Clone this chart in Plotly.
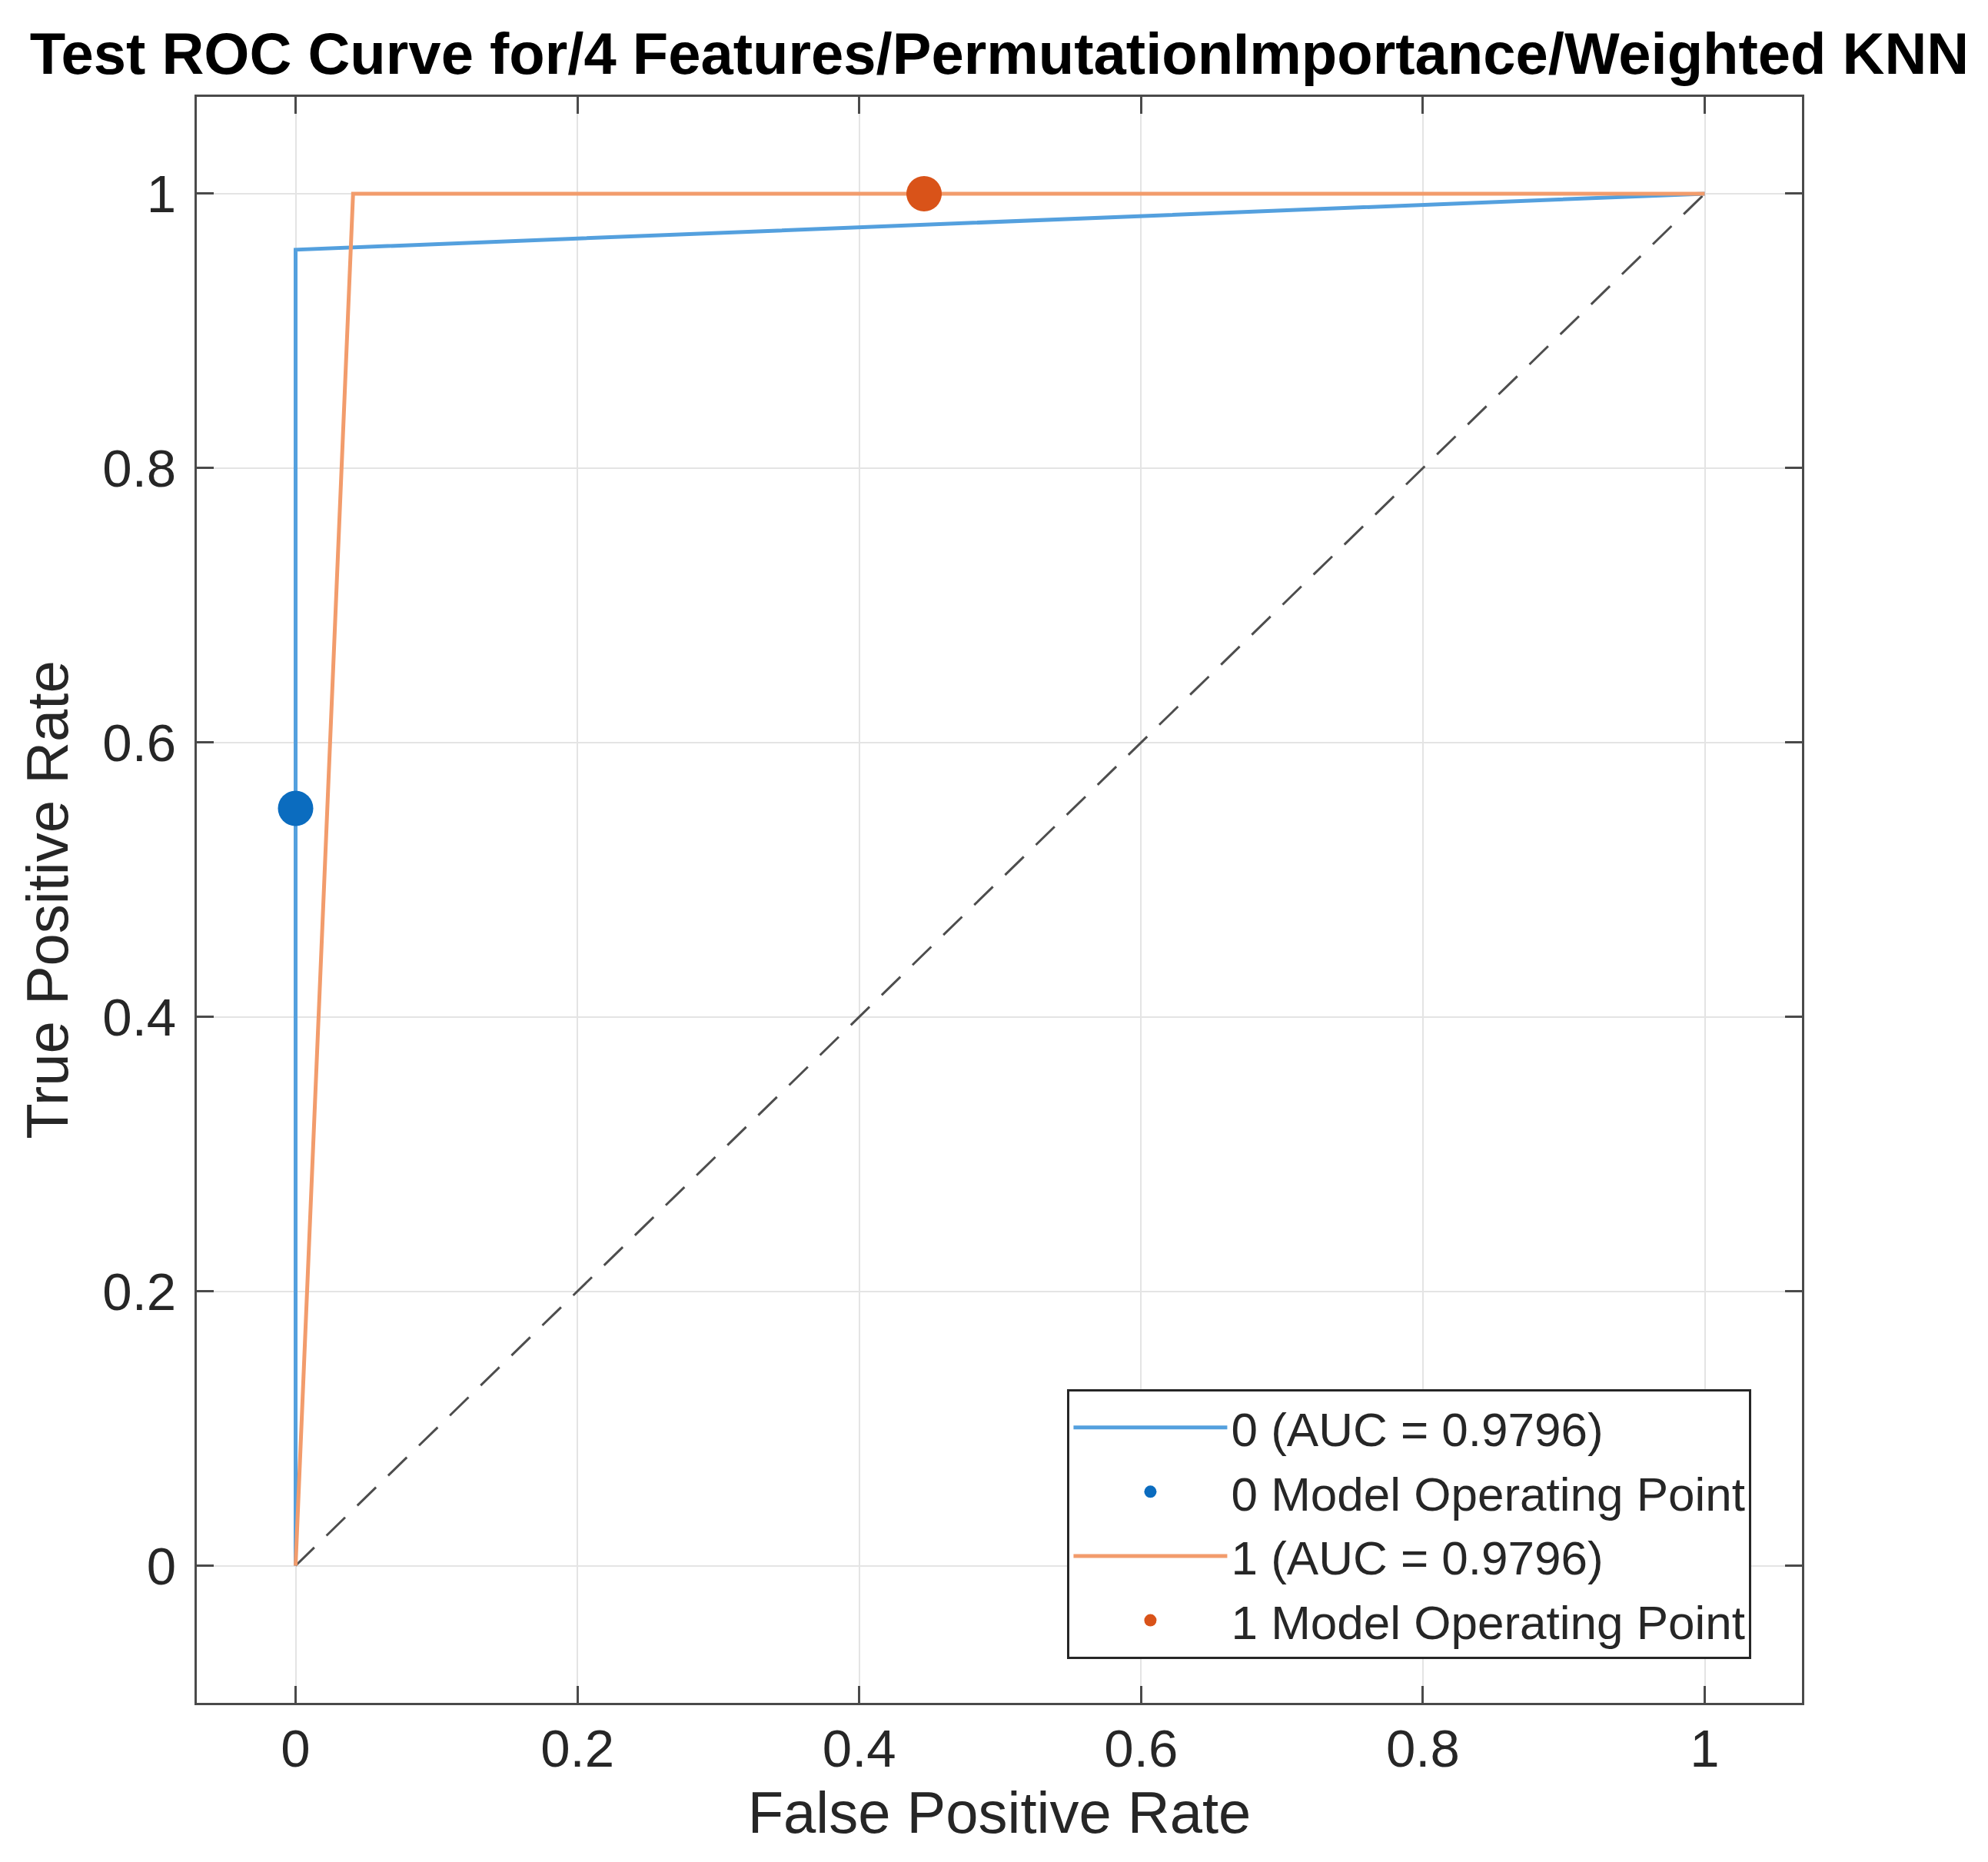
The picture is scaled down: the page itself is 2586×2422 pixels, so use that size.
import plotly.graph_objects as go

# ROC points
fpr_0 = [0, 0, 1]
tpr_0 = [0, 0.9592, 1]
fpr_1 = [0, 0.0408, 1]
tpr_1 = [0, 1, 1]

# model operating points
op_0_x = [0]
op_0_y = [0.552]
op_1_x = [0.446]
op_1_y = [1]

chance_x = [0, 1]
chance_y = [0, 1]

names = ["0 (AUC = 0.9796)", "0 Model Operating Point",
         "1 (AUC = 0.9796)", "1 Model Operating Point"]
ticks = [0, 0.2, 0.4, 0.6, 0.8, 1]
tick_text = ["0", "0.2", "0.4", "0.6", "0.8", "1"]

FONT = "Liberation Sans, Arial, Helvetica, sans-serif"
AX = "#4a4a4a"
TXT = "#262626"

fig = go.Figure()

fig.add_trace(go.Scatter(x=chance_x, y=chance_y, mode='lines', showlegend=False,
                         line=dict(color='#4d4d4d', width=3, dash='34px,22px')))
fig.add_trace(go.Scatter(x=fpr_0, y=tpr_0, mode='lines', name=names[0],
                         line=dict(color='#54a0de', width=5)))
fig.add_trace(go.Scatter(x=op_0_x, y=op_0_y, mode='markers', name=names[1],
                         marker=dict(color='#0b6cbf', size=46)))
fig.add_trace(go.Scatter(x=fpr_1, y=tpr_1, mode='lines', name=names[2],
                         line=dict(color='#f29c6c', width=5)))
fig.add_trace(go.Scatter(x=op_1_x, y=op_1_y, mode='markers', name=names[3],
                         marker=dict(color='#d95319', size=46)))

axis_common = dict(
    showline=True, linecolor=AX, linewidth=3, mirror='ticks',
    ticks='inside', ticklen=22, tickwidth=3, tickcolor=AX,
    showgrid=True, gridcolor='#e4e4e4', gridwidth=2,
    zeroline=False, tickvals=ticks, ticktext=tick_text,
    tickfont=dict(family=FONT, size=69, color=TXT),
    automargin=False,
)

fig.update_layout(
    width=2586, height=2422,
    margin=dict(l=248, r=250, t=118, b=215),
    plot_bgcolor='white', paper_bgcolor='white',
    title=dict(text='Test ROC Curve for/4 Features/PermutationImportance/Weighted KNN',
               font=dict(family=FONT, size=76, color='black', weight='bold'),
               x=0.5, xref='paper', xanchor='center',
               y=0.9855, yref='container', yanchor='top'),
    xaxis=dict(range=[-0.0701, 1.069],
               title=dict(text='False Positive Rate', standoff=20,
                          font=dict(family=FONT, size=76, color=TXT)),
               ticklabelstandoff=-3, **axis_common),
    yaxis=dict(range=[-0.1, 1.0706],
               title=dict(text='True Positive Rate', standoff=20,
                          font=dict(family=FONT, size=76, color=TXT)),
               ticklabelstandoff=10, **axis_common),
    legend=dict(x=0.9686, y=0.0273, xanchor='right', yanchor='bottom',
                bgcolor='white', bordercolor='#262626', borderwidth=3,
                font=dict(family=FONT, size=62, color=TXT),
                itemwidth=200, tracegroupgap=0),
)

fig.write_html("out.html")
